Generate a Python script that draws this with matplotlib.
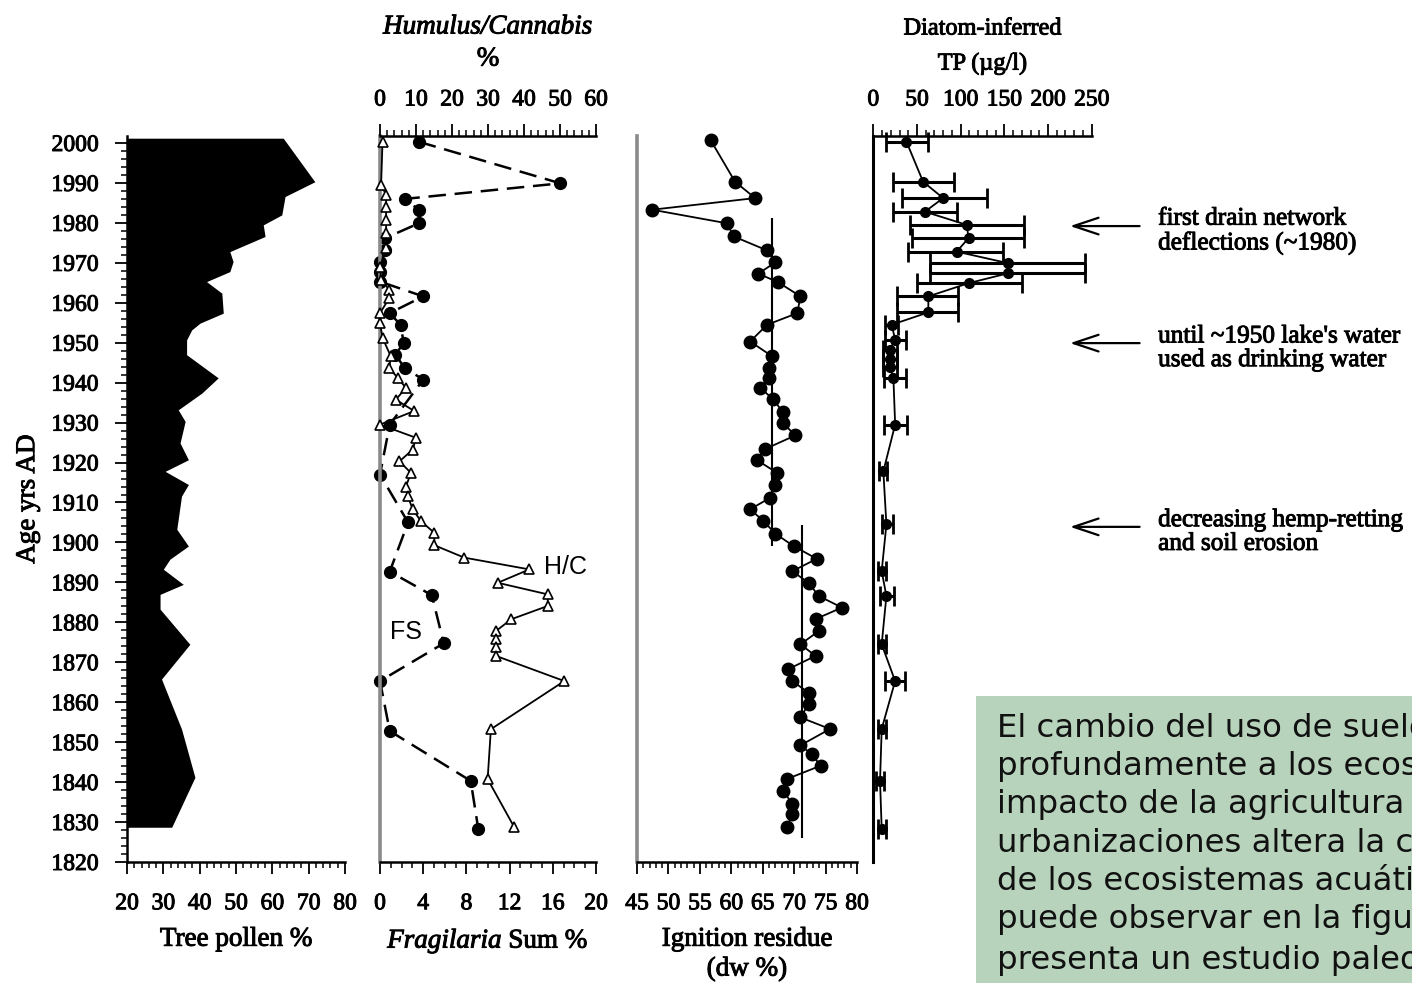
import matplotlib
matplotlib.use("Agg")
import matplotlib.pyplot as plt
import matplotlib.patheffects as pe
import numpy as np
from matplotlib.patches import Rectangle
from matplotlib.ticker import MultipleLocator

plt.rcParams['font.family'] = 'Liberation Serif'
plt.rcParams['mathtext.fontset'] = 'custom'
plt.rcParams['mathtext.rm'] = 'Liberation Serif'
plt.rcParams['mathtext.it'] = 'Liberation Serif:italic'

# tree pollen % (filled profile)
pollen_years = [2001.2, 1990.3, 1986.6, 1982, 1979.5, 1976.6, 1972.8, 1970.3, 1967.8, 1965.3,
                1962.4, 1957.4, 1954.9, 1953.2, 1950.7, 1947, 1941.2, 1937.4, 1933.2, 1930.3,
                1924.9, 1920.7, 1917.8, 1914.5, 1911.6, 1903.3, 1899.1, 1895.8, 1893.3, 1889.5,
                1887, 1883.3, 1874.5, 1865.8, 1853.3, 1841.2, 1828.7]
tree_pollen = [63, 71.7, 63.5, 62.6, 57.5, 58, 48.3, 49.2, 48.3, 41.9,
               46.1, 46.5, 40.1, 37.8, 36.4, 36.4, 45.1, 40.6, 34.1, 36,
               34.6, 36.9, 30.5, 36.9, 35, 33.7, 36.9, 31.8, 30, 35.5,
               29.1, 29.1, 37.3, 29.5, 35, 38.7, 32.3]

# Humulus/Cannabis % (triangles, top axis)
hc_years = [2000.3, 1989.5, 1987, 1984, 1980.75, 1977.4, 1973.7, 1969, 1965.75, 1963.25,
            1961.2, 1957.4, 1955, 1951.2, 1946.6, 1943.7, 1941.2, 1938.7, 1935.75, 1932.9,
            1929.5, 1926.2, 1923.25, 1920.3, 1917.4, 1914, 1911.6, 1908.25, 1905.3, 1902.4,
            1899.3, 1896.2, 1893.25, 1889.9, 1887, 1884.1, 1880.75, 1877.8, 1875.75, 1873.7,
            1871.6, 1865.3, 1853.25, 1840.75, 1828.7]
hc_pct = [0.7, 0.3, 1.7, 1.7, 1.7, 1.7, 1.7, 0, 0.3, 2.6,
          2.6, 0, 0, 0.7, 3, 2.6, 4.9, 7.2, 4.4, 9.5,
          0, 10, 9.1, 5.4, 8.6, 7.2, 7.7, 9.1, 11.4, 15.1,
          15.1, 23.4, 41.5, 32.7, 46.6, 46.6, 36.4, 32.2, 32.2, 32.2,
          32.2, 51.2, 30.8, 29.9, 37.3]

# Fragilaria sum % (dots, bottom axis)
fs_years = [2000.3, 1989.9, 1986, 1983.25, 1979.9, 1976.2, 1973.25, 1970.3, 1967.8, 1965.3,
            1961.6, 1957.4, 1954.5, 1949.9, 1947, 1943.7, 1940.75, 1929.5, 1917, 1905,
            1892.7, 1886.8, 1874.75, 1865.3, 1852.8, 1840.3, 1828.25]
fs_pct = [3.6, 16.7, 2.3, 3.6, 3.6, 0.5, 0.5, 0, 0, 0,
          4, 0.9, 1.9, 2.2, 1.4, 2.3, 4, 0.9, 0, 2.6,
          0.9, 4.8, 5.9, 0, 0.9, 8.4, 9.1]

# ignition residue (dw %)
ign_years = [2000.75, 1990.3, 1986.2, 1983.3, 1979.9, 1976.6, 1973.1, 1970.1, 1967.3, 1965.1,
             1961.6, 1957.4, 1954.5, 1950.3, 1946.6, 1943.7, 1941.2, 1938.7, 1935.8, 1932.6,
             1929.9, 1926.8, 1923.4, 1920.6, 1917.4, 1914.5, 1911.2, 1908.3, 1905.4, 1902.2,
             1899.1, 1895.9, 1892.8, 1889.9, 1886.6, 1883.7, 1880.8, 1877.8, 1874.5, 1871.6,
             1868.3, 1865.3, 1862.4, 1859.5, 1856.2, 1853.3, 1849.2, 1847, 1844.1, 1840.8,
             1837.8, 1834.5, 1832, 1828.7]
ign_res = [56.7, 60.6, 63.8, 47.4, 59.3, 60.4, 65.7, 67, 64.3, 67.5,
           71, 70.5, 65.7, 63, 66.5, 66, 66, 64.6, 66.7, 68.2,
           68.2, 70.2, 65.4, 64.1, 67.3, 67, 66.2, 63, 65.1, 67,
           69.9, 73.6, 69.7, 72.3, 73.9, 77.6, 73.4, 73.9, 71, 73.4,
           69.1, 69.7, 72.3, 72.3, 71, 75.7, 71, 72.8, 74.2, 68.9,
           68.3, 69.7, 69.7, 68.9]
# zone means of ignition residue
zone_mean = [66.5, 71.25]
zone_top = [1981.2, 1904.4]
zone_bottom = [1899, 1826]

# diatom-inferred TP with error range
tp_years = [2000.3, 1990.3, 1986.2, 1982.8, 1979.5, 1976.2, 1972.8, 1969.9, 1967.4, 1964.9,
            1961.6, 1957.6, 1954.5, 1950.8, 1948.3, 1945.8, 1944, 1941.2, 1929.5, 1917.8,
            1904.5, 1892.8, 1886.6, 1874.5, 1865.3, 1853.3, 1840.3, 1828.3]
tp = [38, 57, 80, 59, 107, 109, 95.5, 154.6, 154.6, 109,
      63, 63, 21, 25, 19, 19, 19, 23, 25, 11.5,
      15, 9.6, 15, 9.6, 25, 9.6, 7.7, 9.6]
tp_lo = [15, 23, 32.5, 23, 42, 44, 40, 65, 65, 50,
         27, 27, 13, 13, 11, 11, 11, 12, 12.7, 7,
         9.6, 5, 8, 5, 13, 5, 3, 5]
tp_hi = [63, 92, 130, 95.5, 172, 172, 149, 242, 242, 170,
         97, 97, 28, 37, 27, 27, 27, 37, 39, 16,
         23, 14, 24, 14, 36, 14, 12, 14]

event_years = [1979.2, 1949.9, 1903.9]
event_text = ["first drain network\ndeflections (~1980)",
              "until ~1950 lake's water\nused as drinking water",
              "decreasing hemp-retting\nand soil erosion"]

note = ("El cambio del uso de suelo afecta\n"
        "profundamente a los ecosistemas. El\n"
        "impacto de la agricultura o de las\n"
        "urbanizaciones altera la calidad\n"
        "de los ecosistemas acuáticos, como se\n"
        "puede observar en la figura que\n"
        "presenta un estudio paleolimnológico\n"
        "de un lago suizo.")

W, H = 1412, 983
fig = plt.figure(figsize=(W / 100, H / 100), dpi=100)


def box(x0, x1, ytop=136.2, ybot=862):
    return [x0 / W, 1 - ybot / H, (x1 - x0) / W, (ybot - ytop) / H]


def fy(px):
    # figure fraction from a pixel row counted from the top
    return 1 - px / H


TICK = 17
LAB = 19.5
GRAY = '#8a8a8a'
HEAVY = [pe.withStroke(linewidth=0.7, foreground='black')]


def style(ax):
    ax.set_ylim(1820, 2001.7)
    for s in ax.spines.values():
        s.set_visible(False)
    ax.tick_params(which='major', direction='out', length=8.5, width=1.3, labelsize=TICK)
    ax.tick_params(which='minor', direction='out', length=4.5, width=1.1)
    ax.tick_params(axis='y', which='both', left=False, labelleft=False)


# panel 1: tree pollen
ax1 = fig.add_axes(box(127, 345))
style(ax1)
ax1.fill_betweenx(pollen_years, 20, tree_pollen, color='black', lw=0)
ax1.set_xlim(20, 80)
ax1.spines['left'].set_visible(True)
ax1.spines['bottom'].set_visible(True)
ax1.spines['left'].set_linewidth(1.8)
ax1.spines['bottom'].set_linewidth(1.8)
ax1.xaxis.set_major_locator(MultipleLocator(10))
ax1.xaxis.set_minor_locator(MultipleLocator(2))
ax1.yaxis.set_major_locator(MultipleLocator(10))
ax1.yaxis.set_minor_locator(MultipleLocator(2))
ax1.tick_params(axis='y', which='both', left=True, labelleft=True)
ax1.tick_params(axis='y', which='major', pad=12)
ax1.tick_params(axis='x', which='major', pad=14)
ax1.set_xlabel('Tree pollen %', fontsize=LAB, labelpad=9)
ax1.set_ylabel('Age yrs AD', fontsize=LAB, labelpad=8)

# panel 2: Fragilaria sum and Humulus/Cannabis
ax2 = fig.add_axes(box(380, 596))
style(ax2)
ax2.plot(fs_pct, fs_years, color='black', ls=(0, (7, 3.5)), lw=1.8, marker='o', ms=8.5,
         clip_on=False)
ax2.set_xlim(0, 20)
ax2.spines['left'].set_visible(True)
ax2.spines['left'].set_color(GRAY)
ax2.spines['left'].set_linewidth(2.6)
ax2.spines['bottom'].set_visible(True)
ax2.spines['bottom'].set_linewidth(1.8)
ax2.xaxis.set_major_locator(MultipleLocator(4))
ax2.xaxis.set_minor_locator(MultipleLocator(1))
ax2.tick_params(axis='x', which='major', pad=14)
ax2.set_xlabel(r'$\mathit{Fragilaria}$ Sum %', fontsize=LAB, labelpad=9)
ax2.text(0.9, 1877.6, 'FS', family='Liberation Sans', fontsize=18, va='center')
ax2.text(15.2, 1893.8, 'H/C', family='Liberation Sans', fontsize=18, va='center')

ax2t = ax2.twiny()
style(ax2t)
ax2t.plot(hc_pct, hc_years, color='black', lw=1.3, marker='^', ms=7.5, mfc='white',
          mew=1.2, clip_on=False)
ax2t.set_xlim(0, 60)
ax2t.spines['top'].set_visible(True)
ax2t.spines['top'].set_linewidth(1.8)
ax2t.xaxis.set_major_locator(MultipleLocator(10))
ax2t.xaxis.set_minor_locator(MultipleLocator(2))
ax2t.tick_params(axis='x', which='major', pad=10)

# panel 3: ignition residue
ax3 = fig.add_axes(box(637, 857))
style(ax3)
ax3.plot(ign_res, ign_years, color='black', lw=1.3, marker='o', ms=9, clip_on=False)
ax3.vlines(zone_mean, zone_bottom, zone_top, color='black', lw=1.5)
ax3.set_xlim(45, 80)
ax3.spines['left'].set_visible(True)
ax3.spines['left'].set_color(GRAY)
ax3.spines['left'].set_linewidth(2.6)
ax3.spines['bottom'].set_visible(True)
ax3.spines['bottom'].set_linewidth(1.8)
ax3.xaxis.set_major_locator(MultipleLocator(5))
ax3.xaxis.set_minor_locator(MultipleLocator(1))
ax3.tick_params(axis='x', which='major', pad=14)
ax3.set_xlabel('Ignition residue\n(dw %)', fontsize=LAB, labelpad=9, linespacing=1.25)

# panel 4: diatom-inferred TP
ax4 = fig.add_axes(box(873.3, 1091.7))
style(ax4)
tp_a = np.array(tp)
xerr = [tp_a - np.array(tp_lo), np.array(tp_hi) - tp_a]
ax4.errorbar(tp, tp_years, xerr=xerr, fmt='-o', color='black', ms=7, lw=1.3,
             elinewidth=2.2, capsize=7, capthick=2, clip_on=False)
ax4.set_xlim(0, 250)
ax4.xaxis.tick_top()
ax4.spines['left'].set_visible(True)
ax4.spines['left'].set_linewidth(2.2)
ax4.spines['top'].set_visible(True)
ax4.spines['top'].set_linewidth(1.8)
ax4.xaxis.set_major_locator(MultipleLocator(50))
ax4.xaxis.set_minor_locator(MultipleLocator(10))
ax4.tick_params(axis='x', which='both', top=True, bottom=False, labeltop=True,
                labelbottom=False)
ax4.tick_params(axis='x', which='major', pad=10)

# panel titles above the top axes
titles = [
    fig.text(0.5 * (380 + 596) / W, fy(27), 'Humulus/Cannabis', ha='center', va='center',
             fontsize=LAB, fontstyle='italic'),
    fig.text(0.5 * (380 + 596) / W, fy(59), '%', ha='center', va='center', fontsize=LAB),
    fig.text(0.5 * (873.3 + 1091.7) / W, fy(29), 'Diatom-inferred', ha='center',
             va='center', fontsize=17.5),
    fig.text(0.5 * (873.3 + 1091.7) / W, fy(64), 'TP (µg/l)', ha='center', va='center',
             fontsize=17.5),
]

notes = []
for yr, txt in zip(event_years, event_text):
    ax4.annotate('', xy=(222, yr), xytext=(308, yr), annotation_clip=False,
                 arrowprops=dict(arrowstyle='->,head_length=0.9,head_width=0.3',
                                 color='black', lw=1.6, mutation_scale=20))
    notes.append(ax4.text(326, yr - 1.3, txt, fontsize=18.2, va='center', ha='left',
                          linespacing=1.1, clip_on=False))

# text box
fig.add_artist(Rectangle((976 / W, 0), 1 - 976 / W, (983 - 696) / H,
                         transform=fig.transFigure, facecolor='#b8d3bc', edgecolor='none'))
fig.text(997 / W, fy(713), note, family='DejaVu Sans', fontsize=23.3, va='top',
         ha='left', linespacing=1.3, color='#111111')

# heavier serif text, like the blurred scan
fig.canvas.draw()
serif = titles + notes
for ax in (ax1, ax2, ax2t, ax3, ax4):
    serif += ax.get_xticklabels() + ax.get_yticklabels()
    serif += [ax.xaxis.label, ax.yaxis.label]
for t in serif:
    t.set_path_effects(HEAVY)

fig.savefig('out.png', dpi=100)
